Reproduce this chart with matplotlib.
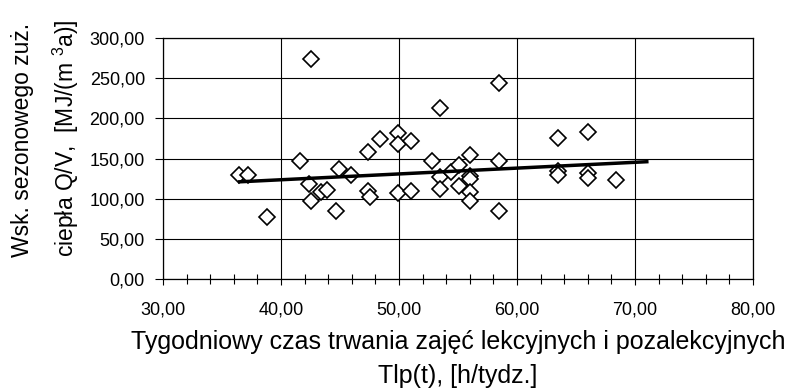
import numpy as np
import matplotlib.pyplot as plt
from matplotlib.ticker import MultipleLocator, FuncFormatter

plt.rcParams['font.family'] = ['Liberation Sans', 'DejaVu Sans']
plt.rcParams['mathtext.fontset'] = 'custom'
plt.rcParams['mathtext.rm'] = 'Liberation Sans'
plt.rcParams['mathtext.it'] = 'Liberation Sans'

# Dane
czas_tlp = [36.4, 37.2, 38.8, 41.6, 42.4, 42.5, 42.5, 43.4, 43.9, 44.7,
            44.9, 45.9, 47.4, 47.4, 47.5, 48.4, 49.9, 49.9, 51.0, 49.9,
            51.0, 52.8, 53.5, 53.5, 53.5, 54.4, 55.1, 55.1, 56.0, 56.0,
            56.0, 56.0, 56.0, 58.5, 58.5, 58.5, 63.5, 63.5, 63.5, 66.0,
            66.0, 66.0, 68.4]
wsk_qv = [129.5, 129.5, 77.0, 146.5, 118.0, 274.0, 96.5, 108.0, 111.0, 85.0,
          137.0, 129.0, 158.5, 110.0, 102.0, 174.0, 182.0, 168.0, 172.0, 106.5,
          110.0, 146.5, 212.5, 127.5, 112.0, 133.0, 142.0, 116.0, 154.5, 128.5,
          124.5, 108.5, 96.5, 243.5, 146.5, 85.0, 176.0, 135.0, 129.5, 183.5,
          131.5, 125.5, 123.5]

# Linia trendu (punkty końcowe)
trend_x = [36.5, 71.0]
trend_y = [121.0, 146.0]

fig = plt.figure(figsize=(7.93, 3.89), dpi=100)
ax = fig.add_axes([163/793, 1-279/389, 590/793, 241/389])

ax.plot(czas_tlp, wsk_qv, linestyle='none', marker='D', markersize=8.5,
        markerfacecolor='white', markeredgecolor='black', markeredgewidth=1.2,
        zorder=3)
ax.plot(trend_x, trend_y, color='black', linewidth=2.5, zorder=4)

ax.set_xlim(30, 80)
ax.set_ylim(0, 300)
ax.xaxis.set_major_locator(MultipleLocator(10))
ax.xaxis.set_minor_locator(MultipleLocator(2))
ax.yaxis.set_major_locator(MultipleLocator(50))

fmt = FuncFormatter(lambda v, p: f"{v:.2f}".replace('.', ','))
ax.xaxis.set_major_formatter(fmt)
ax.yaxis.set_major_formatter(fmt)

ax.grid(True, which='major', color='black', linewidth=0.8)
for s in ax.spines.values():
    s.set_color('black')
    s.set_linewidth(0.9)

ax.tick_params(axis='x', which='major', direction='out', length=4.5, width=0.8,
               labelsize=13, pad=12)
ax.tick_params(axis='x', which='minor', direction='inout', length=7, width=0.8)
ax.tick_params(axis='y', which='major', direction='out', length=6, width=0.8,
               labelsize=13, pad=7)

ax.set_xlabel('Tygodniowy czas trwania zajęć lekcyjnych i pozalekcyjnych\nTlp(t), [h/tydz.]',
              fontsize=18, linespacing=1.5, labelpad=8)

fig.text(46/793, 132/389, 'Wsk. sezonowego zuż.\nciepła Q/V,  [MJ/(m $^{3}$a)]',
         rotation=90, ha='center', va='bottom', multialignment='left',
         fontsize=16.5, linespacing=1.75)

fig.savefig('out.png', dpi=100)
